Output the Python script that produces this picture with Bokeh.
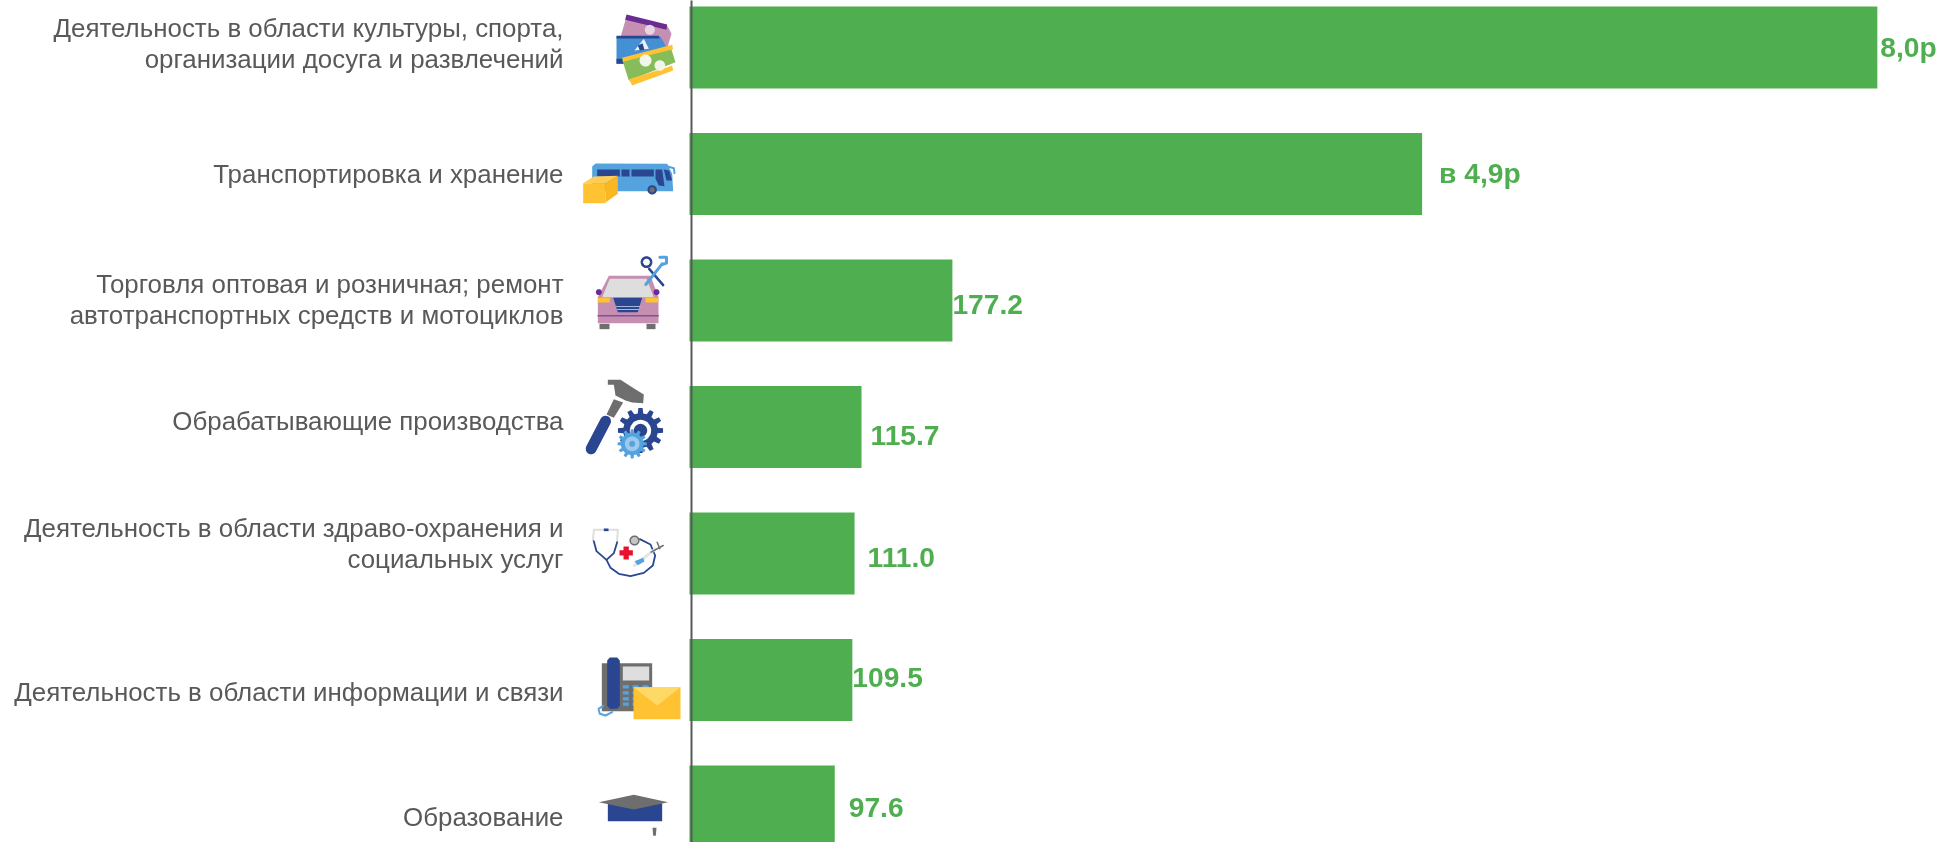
import math
from bokeh.plotting import figure
from bokeh.embed import file_html
from bokeh.resources import INLINE
from bokeh.core.properties import value
from bokeh.models import Range1d

categories = [
    ["Деятельность в области культуры, спорта,", "организации досуга и развлечений"],
    ["Транспортировка и хранение"],
    ["Торговля оптовая и розничная; ремонт", "автотранспортных средств и мотоциклов"],
    ["Обрабатывающие производства"],
    ["Деятельность в области здраво-охранения и", "социальных услуг"],
    ["Деятельность в области информации и связи"],
    ["Образование"],
]
values = [803.0, 495.0, 177.2, 115.7, 111.0, 109.5, 97.6]
labels = ["8,0р", "в 4,9р", "177.2", "115.7", "111.0", "109.5", "97.6"]
label_dx = [3, 17, 0, 9, 13, 0, 14]
label_dy = [-1, -1, 4, 8, 4, -3, 1]
cat_dy = [-4, 0, -1, -6, -10, 12, 10]

W, H = 1941, 842
X0, PXU = 690.0, 1.478
Y0, PITCH = 47.0, 126.5

GREEN = "#4FAF50"
GREY = "#595959"
NAVY = "#2A4690"
SKY = "#54A3DF"
GOLD = "#FFC233"
PINK = "#C48FB1"
PURPLE = "#6A2C91"
ASH = "#6E6E6E"
LEAF = "#86BC5A"
PALE = "#DEDEDE"
RED = "#E8112D"

p = figure(width=W, height=H, output_backend="svg", toolbar_location=None,
           x_range=Range1d(-X0 / PXU, (W - X0) / PXU),
           y_range=Range1d((H - Y0) / PITCH, -Y0 / PITCH),
           min_border=0, outline_line_color=None, x_axis_location=None, y_axis_location=None)
p.grid.visible = False
p.styles = {"position": "fixed", "left": "0px", "top": "0px"}

ys = list(range(len(values)))
p.hbar(y=ys, left=-0.7, right=values, height=0.648, fill_color=GREEN, line_color=None)
p.segment(x0=[0.68], x1=[0.68], y0=[-1], y1=[8], line_color=GREY, line_width=2)

p.text(x=values, y=ys, text=labels, x_offset=label_dx, y_offset=label_dy, text_baseline="middle",
       text_font=value("Liberation Sans"), text_font_style="bold", text_font_size="28.2px",
       text_color=GREEN)

for i, lines in enumerate(categories):
    n = len(lines)
    for j, s in enumerate(lines):
        off = (j - (n - 1) / 2) * 31.5 if n > 1 else 0
        p.text(x=[0], y=[i], text=[s], x_offset=-127, y_offset=off + cat_dy[i], text_align="right",
               text_baseline="middle", text_font=value("Liberation Sans"), text_font_size="25.9px",
               text_color=GREY)


# ---- pictograms: outlines given in reference pixels relative to (560, base) at 3x
def fx(z):
    return (560 + z / 3 - X0) / PXU


def fy(z, base):
    return (base + z / 3 - Y0) / PITCH


def poly(base, pts, color):
    p.patch([fx(a) for a, _ in pts], [fy(b, base) for _, b in pts], fill_color=color, line_color=None)


def stroke(base, pts, color, width):
    p.line([fx(a) for a, _ in pts], [fy(b, base) for _, b in pts], line_color=color, line_width=width,
           line_cap="round", line_join="round")


def disc(base, cx, cy, r, color, ring=False, width=1.0):
    pts = [(cx + r * math.cos(t * math.pi / 18), cy + r * math.sin(t * math.pi / 18)) for t in range(37)]
    if ring:
        stroke(base, pts, color, width)
    else:
        poly(base, pts, color)


def gear(base, cx, cy, r_out, r_in, teeth, color):
    pts = []
    for k in range(teeth):
        a = 2 * math.pi * k / teeth
        d = 2 * math.pi / teeth
        for off, r in ((-0.3, r_in), (-0.18, r_out), (0.18, r_out), (0.3, r_in)):
            pts.append((cx + r * math.cos(a + off * d), cy + r * math.sin(a + off * d)))
    poly(base, pts, color)


# tickets
b = 0
poly(b, [(198, 48), (322, 78), (333, 100), (318, 150), (180, 110)], PINK)
poly(b, [(198, 42), (320, 72), (318, 88), (194, 58)], PURPLE)
disc(b, 268, 88, 15, "#E8D5E4")
poly(b, [(168, 108), (300, 108), (315, 135), (315, 190), (168, 190)], "#4590D5")
poly(b, [(168, 175), (200, 175), (200, 190), (168, 190)], NAVY)
poly(b, [(168, 106), (295, 106), (297, 114), (168, 114)], NAVY)
poly(b, [(222, 150), (250, 115), (265, 145)], "#EAF2FA")
poly(b, [(232, 135), (246, 128), (252, 148), (238, 150)], NAVY)
poly(b, [(185, 178), (330, 138), (345, 185), (205, 240)], LEAF)
poly(b, [(185, 172), (335, 133), (338, 146), (188, 184)], GOLD)
poly(b, [(205, 236), (335, 196), (338, 210), (215, 255)], GOLD)
disc(b, 255, 180, 18, "#F0F6E8")
disc(b, 298, 195, 16, "#F0F6E8")

# bus and parcel
b = 0
poly(b, [(95, 498), (105, 489), (320, 490), (335, 520), (338, 572), (95, 572)], SKY)
for win in ([(110, 507), (178, 507), (178, 528), (110, 528)],
            [(183, 507), (207, 507), (207, 528), (183, 528)],
            [(213, 507), (280, 507), (280, 528), (213, 528)],
            [(285, 507), (305, 507), (312, 557), (295, 555), (285, 535)],
            [(310, 507), (326, 510), (335, 540), (318, 540)]):
    poly(b, win, NAVY)
stroke(b, [(322, 498), (340, 503), (342, 518)], SKY, 2)
disc(b, 275, 568, 14, NAVY)
disc(b, 275, 568, 8, ASH)
poly(b, [(68, 548), (135, 548), (135, 608), (68, 608)], GOLD)
poly(b, [(68, 548), (100, 528), (172, 526), (135, 548)], "#FFCC55")
poly(b, [(135, 548), (172, 526), (172, 580), (135, 606)], "#F9B821")

# car and tools
b = 240
poly(b, [(112, 170), (145, 106), (270, 106), (294, 170), (294, 248), (112, 248)], PINK)
poly(b, [(125, 170), (148, 115), (258, 115), (280, 170)], PALE)
poly(b, [(112, 172), (148, 172), (148, 186), (112, 186)], GOLD)
poly(b, [(255, 172), (293, 172), (293, 186), (255, 186)], GOLD)
poly(b, [(158, 172), (245, 172), (232, 215), (172, 215)], NAVY)
stroke(b, [(168, 198), (238, 198)], "#C9D3E8", 0.8)
stroke(b, [(171, 207), (234, 207)], "#C9D3E8", 0.8)
stroke(b, [(112, 226), (294, 226)], PURPLE, 1)
poly(b, [(117, 250), (147, 250), (147, 266), (117, 266)], ASH)
poly(b, [(258, 250), (285, 250), (285, 266), (258, 266)], ASH)
disc(b, 115, 155, 9, PURPLE)
disc(b, 288, 155, 9, PURPLE)
disc(b, 258, 65, 14, NAVY, ring=True, width=2.5)
stroke(b, [(266, 85), (308, 134)], NAVY, 2.5)
stroke(b, [(256, 132), (305, 70)], SKY, 3)
stroke(b, [(298, 50), (318, 50), (318, 68), (305, 72)], SKY, 3)

# hammer and gears
b = 240
poly(b, [(142, 418), (180, 418), (222, 445), (250, 462), (248, 488), (215, 486), (195, 480), (165, 465), (160, 433), (142, 433)], ASH)
poly(b, [(160, 476), (188, 486), (160, 532), (138, 522)], ASH)
stroke(b, [(135, 542), (92, 625)], NAVY, 11)
gear(b, 240, 570, 68, 52, 12, NAVY)
disc(b, 240, 570, 32, "#FFFFFF")
disc(b, 240, 570, 20, NAVY)
gear(b, 215, 610, 44, 34, 12, SKY)
disc(b, 215, 610, 22, "#9CC9EC")
disc(b, 215, 610, 9, SKY)

# stethoscope
b = 480
stroke(b, [(100, 150), (97, 180)], PALE, 2)
stroke(b, [(172, 150), (170, 180)], PALE, 2)
stroke(b, [(100, 148), (172, 148)], PALE, 2)
poly(b, [(130, 144), (144, 144), (144, 152), (130, 152)], NAVY)
stroke(b, [(100, 182), (108, 212), (138, 238), (160, 218), (170, 185)], NAVY, 1.8)
stroke(b, [(138, 238), (150, 262), (175, 280), (210, 287), (250, 277), (277, 255), (284, 225), (270, 192), (238, 176)], NAVY, 1.8)
disc(b, 222, 180, 13, "#C6C6C6")
disc(b, 222, 180, 13, ASH, ring=True, width=1.5)
poly(b, [(189, 198), (205, 198), (205, 209), (217, 209), (217, 225), (205, 225), (205, 237), (189, 237), (189, 225), (177, 225), (177, 209), (189, 209)], RED)
stroke(b, [(222, 255), (285, 205)], "#E4E4E4", 3)
poly(b, [(222, 242), (248, 232), (252, 243), (232, 254)], SKY)
stroke(b, [(272, 215), (308, 195)], ASH, 1.5)
stroke(b, [(290, 185), (298, 205)], ASH, 1.5)

# telephone and envelope
b = 480
poly(b, [(124, 548), (275, 548), (275, 692), (124, 692)], ASH)
poly(b, [(140, 540), (148, 531), (170, 531), (178, 540), (178, 676), (170, 685), (148, 685), (140, 676)], NAVY)
poly(b, [(187, 558), (266, 558), (266, 600), (187, 600)], PALE)
for ky in (614, 632, 650, 666):
    for kx in (187, 216, 246):
        poly(b, [(kx, ky), (kx + 18, ky), (kx + 18, ky + 10), (kx, ky + 10)], SKY)
stroke(b, [(128, 676), (114, 685), (118, 700), (135, 705), (155, 695)], SKY, 2)
poly(b, [(219, 620), (360, 620), (360, 716), (219, 716)], GOLD)
poly(b, [(219, 620), (360, 620), (290, 675)], "#FFD966")

# graduation cap
b = 480
poly(b, [(142, 968), (305, 968), (305, 1022), (142, 1022)], NAVY)
poly(b, [(115, 965), (220, 943), (323, 965), (220, 987)], ASH)
poly(b, [(276, 1042), (288, 1042), (286, 1066), (278, 1066)], ASH)

open("out.html", "w").write(file_html(p, INLINE))
